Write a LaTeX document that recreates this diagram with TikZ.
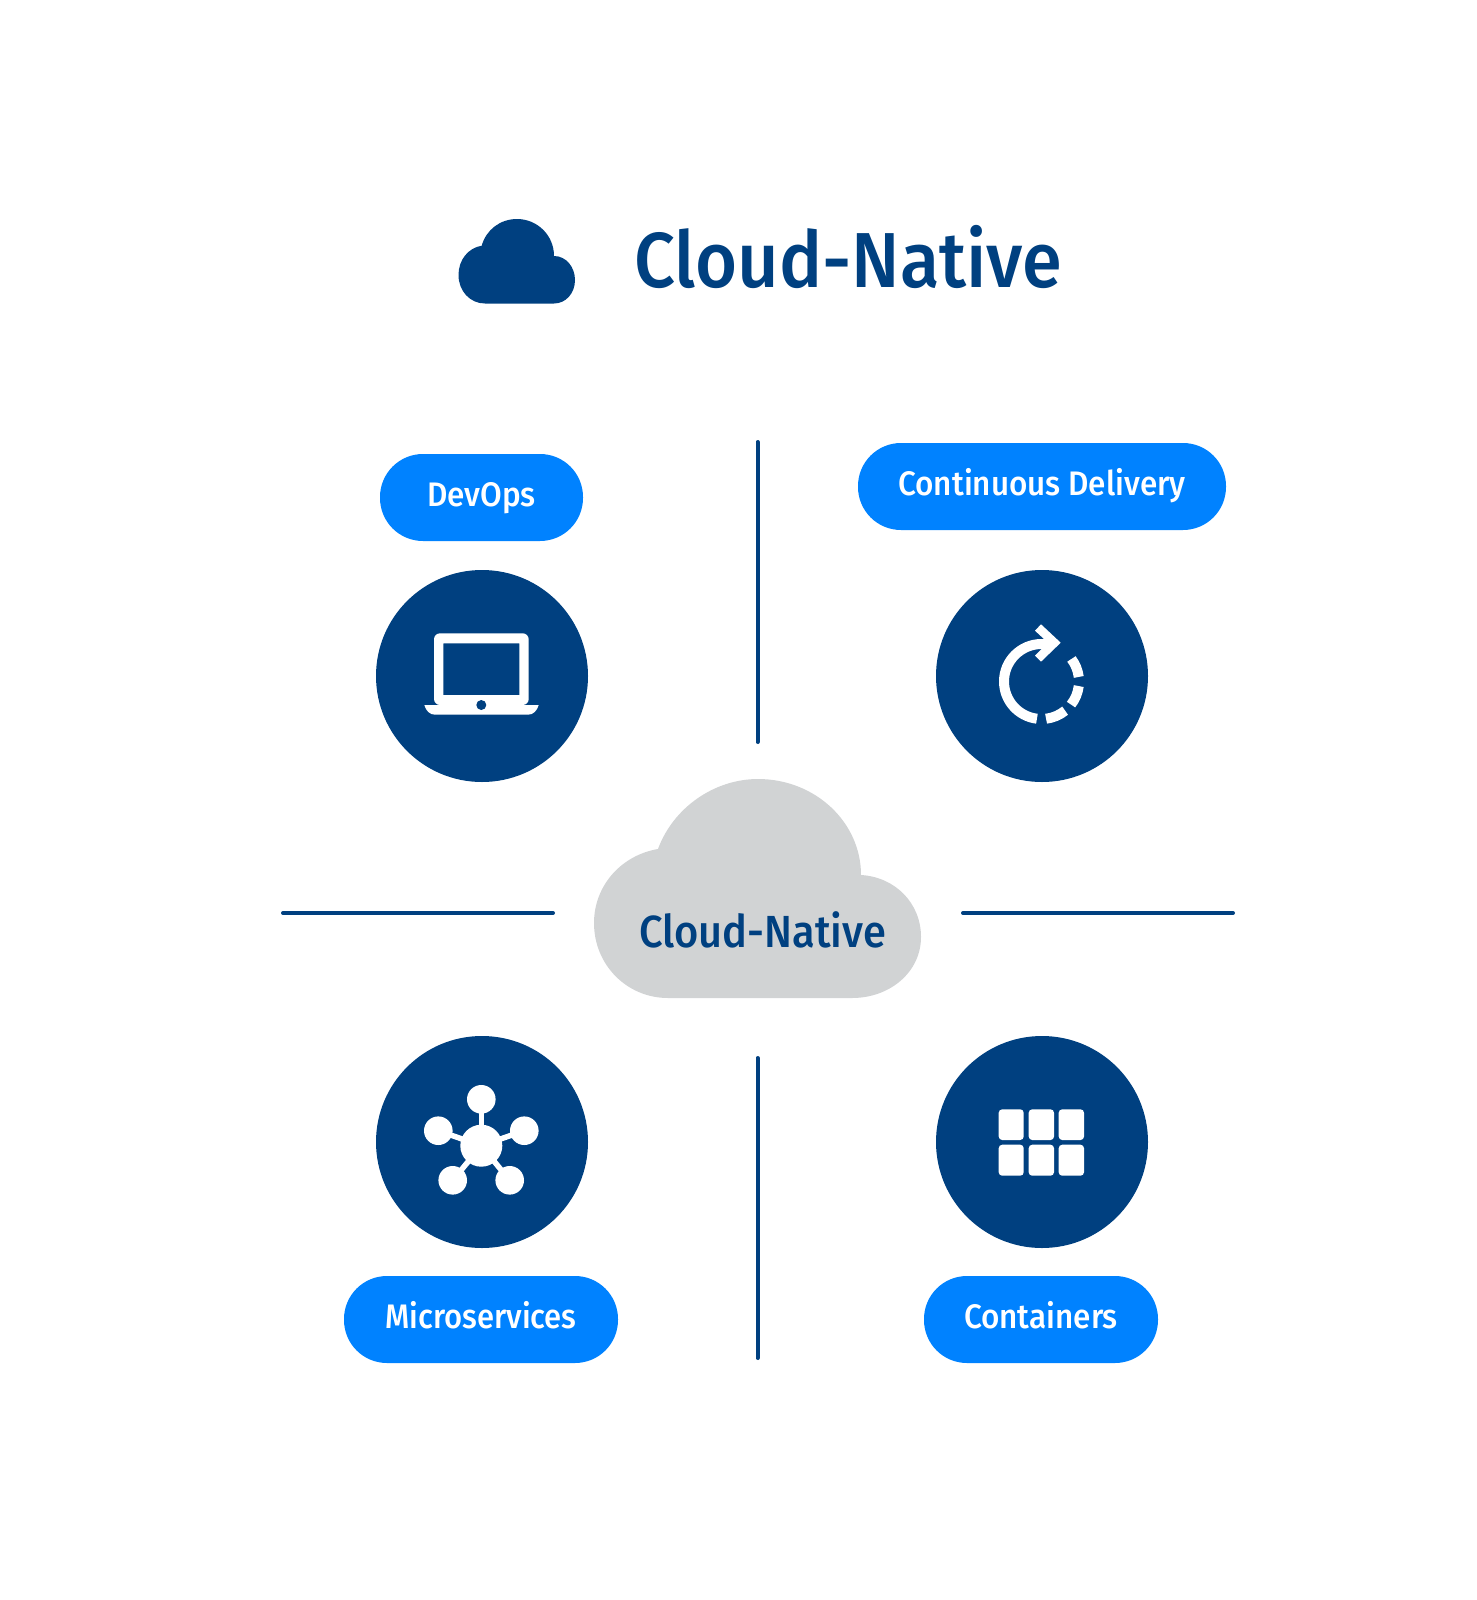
\documentclass[tikz,border=0pt]{standalone}
\usepackage{fontspec}
\setmainfont{Fira Sans}
\newfontfamily\titlefont[FakeStretch=0.925]{Fira Sans Medium}
\definecolor{navy}{HTML}{004080}
\definecolor{azure}{HTML}{0082FF}
\definecolor{cloudgray}{HTML}{D1D3D4}
\tikzset{
  pill/.style={fill=azure,text=white,rounded corners=43pt,inner sep=0pt,font=\titlefont\fontsize{34}{34}\selectfont,text height=18pt,text depth=0pt,minimum height=87pt},
  disc/.style={circle,fill=navy,minimum size=212pt,inner sep=0pt},
  rule/.style={draw=navy,line width=4pt,line cap=round},
  glyph/.style={fill=white,draw=none},
  ring/.style={draw=white,line width=10pt,line cap=butt},
  cell/.style={fill=white,rounded corners=3.5pt},
  spoke/.style={draw=white,line width=5.5pt}
}
\begin{document}
\begin{tikzpicture}[x=1pt,y=-1pt]
\useasboundingbox (0,0) rectangle (1476,1600);
% title
\fill[navy] (485,303.5) .. controls (470,303.5) and (458.5,291) .. (458.5,275)
  .. controls (458.5,260) and (468,248) .. (481.7,245.7)
  .. controls (486,230) and (500,219) .. (517,219)
  .. controls (537,219) and (554,235) .. (554,256)
  .. controls (566,256) and (575,267) .. (575,280)
  .. controls (575,293) and (566,303.5) .. (554,303.5) -- cycle;
\node[anchor=base west,inner sep=0pt,text=navy,font=\titlefont\fontsize{78}{78}\selectfont] (title) at (634,287) {Cloud-Native};
% rules
\coordinate (vt1) at (757.5,442); \coordinate (vt2) at (757.5,742);
\coordinate (vb1) at (757.5,1058); \coordinate (vb2) at (757.5,1358);
\coordinate (hl1) at (283,913); \coordinate (hl2) at (553,913);
\coordinate (hr1) at (963,913); \coordinate (hr2) at (1233,913);
\draw[rule] (vt1) -- (vt2);
\draw[rule] (vb1) -- (vb2);
\draw[rule] (hl1) -- (hl2);
\draw[rule] (hr1) -- (hr2);
% centre cloud
\fill[cloudgray] (668,998) .. controls (627,998) and (594,965) .. (594,923)
  .. controls (594,885) and (622,855) .. (658,849)
  .. controls (673,808) and (714,779) .. (758,779)
  .. controls (815,779) and (861,822) .. (861,875)
  .. controls (895,877) and (921,903) .. (921,937)
  .. controls (921,972) and (890,998) .. (852,998) -- cycle;
\node[anchor=base west,inner sep=0pt,text=navy,font=\titlefont\fontsize{45}{45}\selectfont] (centre) at (639,947.5) {Cloud-Native};
% pills
\node[pill,minimum width=203pt] (devops) at (481.5,497.5) {DevOps};
\node[pill,minimum width=368pt] (cd) at (1042,486.5) {Continuous Delivery};
\node[pill,minimum width=274pt] (micro) at (481,1319.5) {\scalebox{0.985}[1]{Microservices}};
\node[pill,minimum width=234pt] (cont) at (1041,1319.5) {Containers};
% discs
\node[disc] (d1) at (482,676) {};
\node[disc] (d2) at (1042,676) {};
\node[disc] (d3) at (482,1142) {};
\node[disc] (d4) at (1042,1142) {};
% laptop
\fill[glyph,even odd rule] [rounded corners=6pt] (434,705) -- (434,633.3) -- (528.7,633.3) -- (528.7,705) -- cycle
  [sharp corners] (443.3,643.3) rectangle (519.3,695);
\fill[glyph] (424.3,705) -- (538.7,705) .. controls (537,711) and (533,714.7) .. (528,714.7) -- (435,714.7) .. controls (430,714.7) and (426,711) .. cycle;
\fill[navy] (481.3,705) circle (5);
% refresh
\begin{scope}[shift={(1041.5,681.5)},y=1pt]
\draw[ring] (90:37.5) arc[start angle=90,end angle=263,radius=37.5pt];
\draw[ring] (-83:37.5) arc[start angle=-83,end angle=-51,radius=37.5pt];
\draw[ring] (-38:37.5) arc[start angle=-38,end angle=-7,radius=37.5pt];
\draw[ring] (7:37.5) arc[start angle=7,end angle=37,radius=37.5pt];
\end{scope}
\draw[ring] (1041,644) -- (1050,644);
\fill[glyph] (1041,624.3) -- (1060.7,642.7) -- (1041,661.7) -- (1035,655.7) -- (1048,642.7) -- (1035,630.7) -- cycle;
% network
\coordinate (hub) at (481.3,1145.7);
\coordinate (n1) at (481.3,1099.3);
\coordinate (n2) at (438.3,1130.7);
\coordinate (n3) at (524.3,1130.7);
\coordinate (n4) at (452.7,1180.3);
\coordinate (n5) at (509.7,1180.3);
\foreach \n in {n1,n2,n3,n4,n5} {\draw[spoke] (hub) -- (\n); \fill[glyph] (\n) circle (14.3);}
\fill[glyph] (hub) circle (21);
% grid
\foreach \xa/\xb in {998.7/1023.7,1028.7/1054,1058.7/1084} {
  \fill[cell] (\xa,1109.3) rectangle (\xb,1140);
  \fill[cell] (\xa,1144.7) rectangle (\xb,1175.7);
}
\end{tikzpicture}
\end{document}
